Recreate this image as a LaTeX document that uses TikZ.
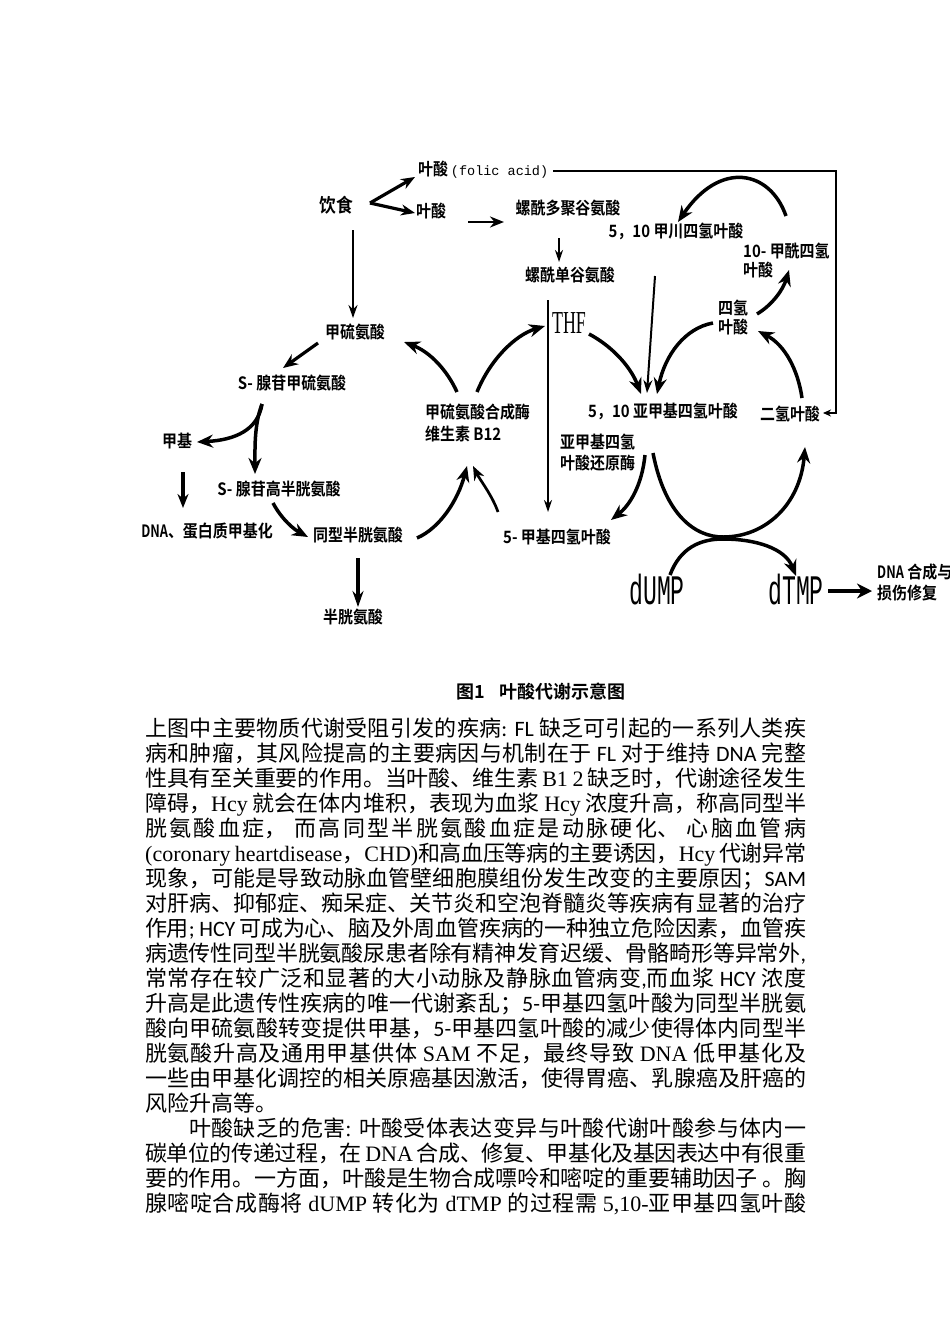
\documentclass[tikz,border=0pt]{standalone}
\usepackage{fontspec}
\usepackage{graphicx}
\usetikzlibrary{arrows.meta}
\setmainfont{Liberation Serif}
\newfontfamily\cjkf{Noto Sans CJK SC}
\newfontfamily\dgf{Noto Sans CJK SC Bold}[FakeStretch=0.88]
\newfontfamily\capf{Noto Sans CJK SC Bold}
\newfontfamily\serf{Liberation Serif}
\newfontfamily\sansf{Carlito}
\newfontfamily\monof{Liberation Mono}
\XeTeXlinebreaklocale "zh"
\XeTeXlinebreakskip=0pt plus 2pt minus 0.5pt
\lineskiplimit=-50pt
\newcommand\lat[1]{{\serf #1}}
\newcommand\sfl[1]{{\sansf #1}}
\begin{document}
\begin{tikzpicture}[x=1pt,y=-1pt,
  lab/.style={font=\dgf\fontsize{17}{19}\selectfont, inner sep=0pt},
  fat/.style={line width=3.5pt, -{Stealth[length=16pt,width=13pt]}},
  mid/.style={line width=2.7pt, -{Stealth[length=14pt,width=11pt]}},
  thinarr/.style={line width=1.6pt, -{Stealth[length=12pt,width=8pt]}}]
\fill[white] (0,0) rectangle (950,1344);
\useasboundingbox (0,0) rectangle (950,1344);

% ---- nodes ----
\node[lab, font=\dgf\fontsize{19}{21}\selectfont] (diet) at (336,205) {饮食};
\node[lab, anchor=west] (fa1) at (418,170) {叶酸\,{\monof\fontsize{13.5}{15}\selectfont (folic acid)}};
\node[lab] (fa2) at (431,211) {叶酸};
\node[lab] (poly) at (568,208) {螺酰多聚谷氨酸};
\node[lab] (mono) at (570,275) {螺酰单谷氨酸};
\node[lab] (mthenyl) at (676,231) {5，10 甲川四氢叶酸};
\node[lab, anchor=north west, align=left] (formyl) at (743,243) {10- 甲酰四氢\\叶酸};
\node[lab] (thf) at (569,323) {\scalebox{0.56}[1]{\serf\fontsize{32}{32}\selectfont THF}};
\node[lab, align=center] (thfa) at (733,317) {四氢\\叶酸};
\node[lab] (dhf) at (790,414) {二氢叶酸};
\node[lab] (mlene) at (663,411) {5，10 亚甲基四氢叶酸};
\node[lab, anchor=north west, align=left] (mtr) at (425,404) {甲硫氨酸合成酶\\[3pt]维生素 B12};
\node[lab] (met) at (355,332) {甲硫氨酸};
\node[lab] (sam) at (292,383) {S- 腺苷甲硫氨酸};
\node[lab] (methyl) at (177,441) {甲基};
\node[lab] (sah) at (279,489) {S- 腺苷高半胱氨酸};
\node[lab] (dnam) at (207,531) {\scalebox{0.85}[1]{DNA}、蛋白质甲基化};
\node[lab] (hcy) at (358,535) {同型半胱氨酸};
\node[lab] (cys) at (353,617) {半胱氨酸};
\node[lab] (mthf) at (557,537) {5- 甲基四氢叶酸};
\node[lab, anchor=north west, align=left] (mthfr) at (560,434) {亚甲基四氢\\[2pt]叶酸还原酶};
\node[lab] (dump) at (657,590) {\scalebox{0.55}[1]{\monof\fontsize{42}{42}\selectfont dUMP}};
\node[lab] (dtmp) at (796,590) {\scalebox{0.55}[1]{\monof\fontsize{42}{42}\selectfont dTMP}};
\node[lab, anchor=north west, align=left] (dnarep) at (877,564) {\scalebox{0.85}[1]{DNA} 合成与\\[2pt]损伤修复};
\node[font=\capf\fontsize{18}{20}\selectfont, inner sep=0pt] (cap) at (541,692) {图1\hspace{14pt}叶酸代谢示意图};

% ---- connector end points ----
\coordinate (v) at (370,203);
\coordinate (faTip) at (415,177);
\coordinate (fa2Tip) at (415,213);

% ---- connectors ----
\draw[line width=3.2pt, -{Stealth[length=14pt,width=11pt]}] (v) -- (faTip);
\draw[line width=3.2pt, -{Stealth[length=14pt,width=11pt]}] (v) -- (fa2Tip);
\draw[mid] (468,222) -- (504,222);
\draw[thinarr] (559,238) -- (559,262);
\draw[fat] (786,216) .. controls (770,170) and (720,160) .. (678,222);
\draw[fat] (757,314) .. controls (772,305) and (783,290) .. (789,270);
\draw[fat] (802,398) .. controls (798,370) and (785,345) .. (758,331);
\draw[fat] (713,323) .. controls (685,328) and (665,355) .. (657,394);
\draw[fat] (589,334) .. controls (610,345) and (630,365) .. (641,394);
\draw[line width=2pt, -{Stealth[length=13pt,width=9pt]}] (655,276) -- (647,393);
\draw[thinarr] (548,300) -- (548,512);
\draw[fat] (457,392) .. controls (447,370) and (430,352) .. (404,342);
\draw[fat] (477,392) .. controls (490,360) and (515,335) .. (545,326);
\draw[line width=3.2pt, -{Stealth[length=15pt,width=12pt]}] (318,343) -- (283,368);
\draw[line width=2pt, -{Stealth[length=13pt,width=9pt]}] (353,230) -- (353,318);
\draw[fat] (262,404) .. controls (258,430) and (235,440) .. (197,442);
\draw[fat] (262,404) .. controls (254,425) and (255,450) .. (255,474);
\draw[line width=3.2pt, -{Stealth[length=14pt,width=11pt]}] (183,472) -- (183,508);
\draw[fat] (273,503) .. controls (282,520) and (295,530) .. (308,537);
\draw[fat] (417,538) .. controls (440,528) and (458,500) .. (467,466);
\draw[mid] (498,512) .. controls (492,495) and (480,480) .. (473,466);
\draw[line width=3.2pt, -{Stealth[length=16pt,width=11pt]}] (358,558) -- (358,607);
\draw[fat] (645,455) .. controls (642,485) and (630,505) .. (611,520);
\draw[fat] (653,453) .. controls (665,515) and (695,537) .. (723,537) .. controls (765,537) and (800,505) .. (805,447);
\draw[fat] (670,575) .. controls (680,548) and (700,539) .. (723,539) .. controls (755,539) and (785,548) .. (796,576);
\draw[line width=4.8pt, -{Stealth[length=15pt,width=15pt]}] (828,591) -- (872,591);
\draw[line width=2pt, -{Stealth[length=8pt,width=7pt]}] (553,171) -- (836,171) -- (836,413) -- (823,413);

% ---- body text ----
\node[anchor=north west, inner sep=0pt, text width=661pt, align=justify,
      font=\cjkf\fontsize{22}{25}\selectfont] (body) at (145,718) {%
\tolerance=9999\emergencystretch=0pt\parskip=0pt
\noindent 上图中主要物质代谢受阻引发的疾病\sfl{: FL} 缺乏可引起的一系列人类疾\linebreak
病和肿瘤，其风险提高的主要病因与机制在于 \sfl{FL} 对于维持 \sfl{DNA} 完整\linebreak
性具有至关重要的作用。当叶酸、维生素 \lat{B1 2} 缺乏时，代谢途径发生\linebreak
障碍，\lat{Hcy} 就会在体内堆积，表现为血浆 \lat{Hcy} 浓度升高，称高同型半\linebreak
胱氨酸血症， 而高同型半胱氨酸血症是动脉硬化、 心脑血管病\linebreak
\lat{(coronary heartdisease}，\lat{CHD)}和高血压等病的主要诱因，\lat{Hcy} 代谢异常\linebreak
现象，可能是导致动脉血管壁细胞膜组份发生改变的主要原因；\sfl{SAM}\linebreak
对肝病、抑郁症、痴呆症、关节炎和空泡脊髓炎等疾病有显著的治疗\linebreak
作用\sfl{; HCY} 可成为心、脑及外周血管疾病的一种独立危险因素，血管疾\linebreak
病遗传性同型半胱氨酸尿患者除有精神发育迟缓、骨骼畸形等异常外\sfl{,}\linebreak
常常存在较广泛和显著的大小动脉及静脉血管病变\sfl{,}而血浆 \sfl{HCY} 浓度\linebreak
升高是此遗传性疾病的唯一代谢紊乱；\sfl{5-}甲基四氢叶酸为同型半胱氨\linebreak
酸向甲硫氨酸转变提供甲基，\sfl{5-}甲基四氢叶酸的减少使得体内同型半\linebreak
胱氨酸升高及通用甲基供体 \lat{SAM} 不足，最终导致 \lat{DNA} 低甲基化及\linebreak
一些由甲基化调控的相关原癌基因激活，使得胃癌、乳腺癌及肝癌的\linebreak
风险升高等。\par
\noindent\hspace*{44pt}叶酸缺乏的危害\lat{:} 叶酸受体表达变异与叶酸代谢叶酸参与体内一\linebreak
碳单位的传递过程，在 \lat{DNA} 合成、修复、甲基化及基因表达中有很重\linebreak
要的作用。一方面，叶酸是生物合成嘌呤和嘧啶的重要辅助因子 。胸\linebreak
腺嘧啶合成酶将 \lat{dUMP} 转化为 \lat{dTMP} 的过程需 \lat{5,10-}亚甲基四氢叶酸{\parfillskip=0pt\par}};
\end{tikzpicture}
\end{document}
